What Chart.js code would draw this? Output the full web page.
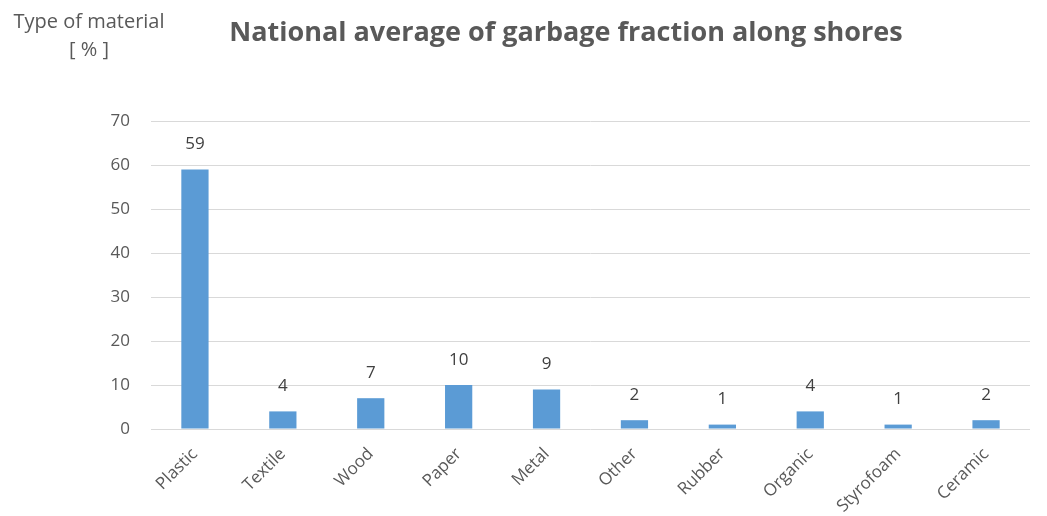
<!DOCTYPE html>
<html><head><meta charset="utf-8">
<script src="https://cdn.jsdelivr.net/npm/chart.js@4.4.1/dist/chart.umd.min.js"></script>
<style>html,body{margin:0;padding:0;background:#fff}#wrap{width:1047px;height:516px;position:relative}</style>
</head><body><div id="wrap"><canvas id="c" width="1047" height="516"></canvas></div>
<script>
const categories = ["Plastic","Textile","Wood","Paper","Metal","Other","Rubber","Organic","Styrofoam","Ceramic"];
const values = [59,4,7,10,9,2,1,4,1,2];
const yTicks = [0,10,20,30,40,50,60,70];
const titleText = "National average of garbage fraction along shores";
const axisTitleLines = ["Type of material","[ % ]"];

const FONT = "'Open Sans', 'Noto Sans', sans-serif";

const labelsPlugin = {
  id: 'extras',
  afterDatasetsDraw(chart) {
    const ctx = chart.ctx;
    const meta = chart.getDatasetMeta(0);
    ctx.save();
    ctx.font = "17px " + FONT;
    ctx.fillStyle = "#404040";
    ctx.textAlign = "center";
    ctx.textBaseline = "middle";
    meta.data.forEach((bar, i) => {
      ctx.fillText(String(values[i]), bar.x, bar.y - 25);
    });
    ctx.restore();
  },
  afterDraw(chart) {
    const ctx = chart.ctx;
    ctx.save();
    ctx.fillStyle = "#595959";
    ctx.textAlign = "center";
    ctx.textBaseline = "middle";
    ctx.font = "bold 27px " + FONT;
    ctx.fillText(titleText, 566, 33);
    ctx.font = "20px " + FONT;
    ctx.fillText(axisTitleLines[0], 89, 22);
    ctx.fillText(axisTitleLines[1], 89, 50);
    ctx.restore();
  }
};

new Chart(document.getElementById('c'), {
  type: 'bar',
  data: {
    labels: categories,
    datasets: [{
      data: values,
      backgroundColor: '#5B9BD5',
      borderWidth: 0,
      categoryPercentage: 1,
      barPercentage: 0.31
    }]
  },
  options: {
    responsive: false,
    animation: false,
    layout: { padding: { top: 121, right: 17, left: 0, bottom: 0 } },
    plugins: { legend: { display: false }, tooltip: { enabled: false }, title: { display: false } },
    scales: {
      x: {
        grid: { display: false, drawTicks: false },
        border: { display: false },
        ticks: {
          font: { family: FONT, size: 17 },
          color: '#595959',
          maxRotation: 45, minRotation: 45,
          padding: 15
        },
        afterFit(s) { s.height = 87; }
      },
      y: {
        min: 0, max: 70,
        afterBuildTicks(s) { s.ticks = yTicks.map(v => ({ value: v })); },
        grid: { color: '#d9d9d9', lineWidth: 1, drawTicks: false },
        border: { display: false },
        ticks: {
          font: { family: FONT, size: 17 },
          color: '#595959',
          padding: 21
        },
        afterFit(s) { s.width = 151; }
      }
    }
  },
  plugins: [labelsPlugin]
});
</script>
</body></html>
